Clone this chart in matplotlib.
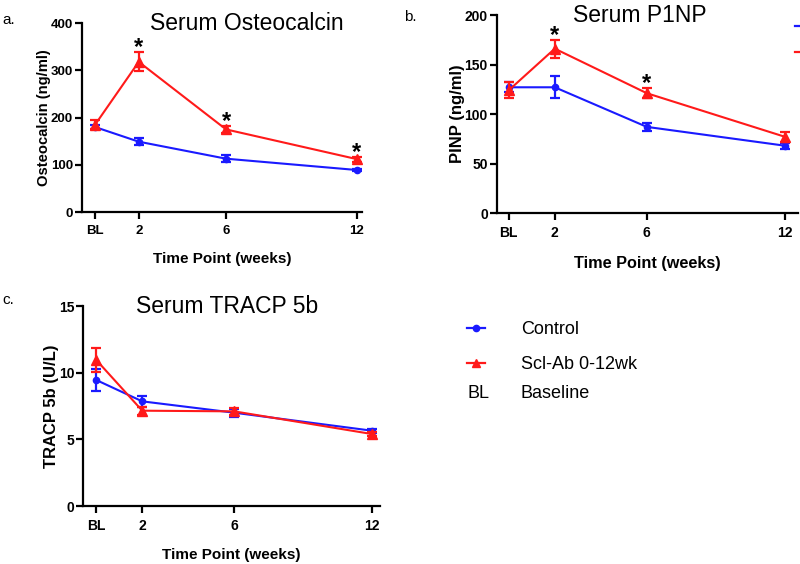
import matplotlib
matplotlib.use("Agg")
import matplotlib.pyplot as plt
from matplotlib.lines import Line2D

plt.rcParams['font.family'] = ['Liberation Sans', 'DejaVu Sans']

x_pos = [0, 2, 6, 12]
x_labels = ["BL", "2", "6", "12"]

# Panel a: Osteocalcin (ng/ml)
oc_ctrl = [180, 149, 113, 89]
oc_ctrl_err = [5, 8, 7, 3]
oc_scl = [185, 318, 175, 112]
oc_scl_err = [10, 20, 8, 5]
oc_star = [False, True, True, True]

# Panel b: P1NP (ng/ml)
p1_ctrl = [127, 127, 87, 68]
p1_ctrl_err = [5, 11, 4, 3]
p1_scl = [124, 166, 121, 77]
p1_scl_err = [8, 9, 5, 5]
p1_star = [False, True, True, False]

# Panel c: TRACP 5b (U/L)
tr_ctrl = [9.45, 7.85, 7.0, 5.65]
tr_ctrl_err = [0.8, 0.4, 0.3, 0.15]
tr_scl = [10.95, 7.15, 7.1, 5.4]
tr_scl_err = [0.9, 0.3, 0.25, 0.15]

BLUE = "#1a1aff"
RED = "#ff1a1a"

fig = plt.figure(figsize=(8, 5.64), dpi=100)

def panel(rect, xlim, ctrl, ctrl_err, scl, scl_err, stars, ylim, yticks,
          ylabel, title, letter, letter_xy, title_x, ylab_fs, xlab_fs,
          tick_fs, xlab_pad):
    ax = fig.add_axes(rect)
    ax.errorbar(x_pos, ctrl, yerr=ctrl_err, color=BLUE, marker='o', ms=4.5,
                lw=1.5, elinewidth=1.6, capsize=3.5, capthick=1.6, zorder=3)
    ax.errorbar(x_pos, scl, yerr=scl_err, color=RED, marker='^', ms=7,
                lw=1.5, elinewidth=1.6, capsize=3.5, capthick=1.6, zorder=4)
    if stars is not None:
        for xi, v, e, s in zip(x_pos, scl, scl_err, stars):
            if s:
                ax.annotate("*", (xi, v + e), xytext=(0, -5),
                            textcoords='offset points', ha='center',
                            va='bottom', fontsize=17, fontweight='bold')
    ax.set_xlim(*xlim)
    ax.set_ylim(*ylim)
    ax.set_yticks(yticks)
    ax.set_xticks(x_pos)
    ax.set_xticklabels(x_labels)
    for sp in ['top', 'right']:
        ax.spines[sp].set_visible(False)
    for sp in ['left', 'bottom']:
        ax.spines[sp].set_linewidth(1.6)
    ax.tick_params(axis='both', width=1.6, length=5, labelsize=tick_fs,
                   direction='out')
    ax.tick_params(axis='y', pad=1.5)
    ax.tick_params(axis='x', pad=4)
    for lab in ax.get_xticklabels() + ax.get_yticklabels():
        lab.set_fontweight('bold')
    ax.set_ylabel(ylabel, fontsize=ylab_fs, fontweight='bold', labelpad=0)
    ax.set_xlabel("Time Point (weeks)", fontsize=xlab_fs, fontweight='bold',
                  labelpad=xlab_pad)
    ax.text(title_x, 1.0, title, transform=ax.transAxes, fontsize=16.5,
            ha='center', va='center')
    fig.text(letter_xy[0], letter_xy[1], letter, fontsize=11, va='center')
    return ax

panel([0.1025, 0.624, 0.35, 0.335], (-0.6, 12.23), oc_ctrl, oc_ctrl_err,
      oc_scl, oc_scl_err, oc_star, (0, 400), [0, 100, 200, 300, 400],
      "Osteocalcin (ng/ml)", "Serum Osteocalcin", "a.", (0.003, 0.965),
      0.59, 10.6, 11, 9.5, 11)
panel([0.621, 0.6223, 0.3765, 0.3511], (-0.52, 12.57), p1_ctrl, p1_ctrl_err,
      p1_scl, p1_scl_err, p1_star, (0, 200), [0, 50, 100, 150, 200],
      "PINP (ng/ml)", "Serum P1NP", "b.", (0.505, 0.97),
      0.475, 12, 11.7, 10, 12)
panel([0.104, 0.1028, 0.371, 0.3546], (-0.57, 12.35), tr_ctrl, tr_ctrl_err,
      tr_scl, tr_scl_err, None, (0, 15), [0, 5, 10, 15],
      "TRACP 5b (U/L)", "Serum TRACP 5b", "c.", (0.003, 0.468),
      0.485, 12, 11, 10, 11)

handles = [Line2D([], [], color=BLUE, marker='o', ms=4.5, lw=1.6),
           Line2D([], [], color=RED, marker='^', ms=6, lw=1.6)]
fig.legend(handles, ["Control", "Scl-Ab 0-12wk"], loc='upper left',
           bbox_to_anchor=(0.584, 0.431), frameon=False, fontsize=13,
           handlelength=1.0, handletextpad=2.0, labelspacing=1.0,
           borderpad=0, borderaxespad=0)
fig.text(0.584, 0.303, "BL", fontsize=13, va='center')
fig.text(0.651, 0.303, "Baseline", fontsize=13, va='center')

# clipped legend at far right (as in the source figure)
fig.legend(handles, [" ", " "], loc='upper left',
           bbox_to_anchor=(0.994, 0.965), frameon=False, fontsize=13,
           handlelength=1.2, handletextpad=2.0, labelspacing=0.5,
           borderpad=0, borderaxespad=0)

fig.savefig("out.png", dpi=100)
